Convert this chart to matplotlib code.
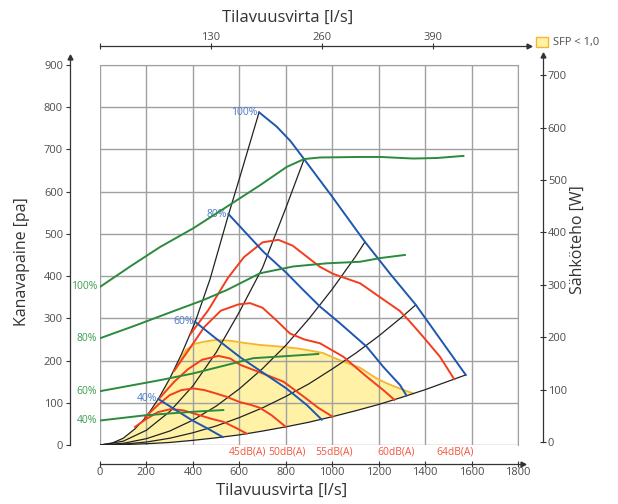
import numpy as np
import matplotlib
matplotlib.use("Agg")
import matplotlib.pyplot as plt
from matplotlib.patches import Rectangle
from matplotlib.transforms import ScaledTranslation

plt.rcParams["font.family"] = ["Open Sans", "DejaVu Sans"]

# system curves (black), flow l/s -> pressure Pa
sys1_x = [0, 50, 100, 150, 200, 251, 300, 350, 409, 474, 553, 603, 685]
sys1_y = [0, 4, 16, 38, 67, 109, 157, 214, 290, 393, 545, 636, 788]
sys2_x = [0, 100, 200, 300, 400, 500, 600, 700, 800, 879]
sys2_y = [0, 9, 35, 79, 140, 219, 315, 420, 561, 677]
sys3_x = [0, 100, 200, 300, 400, 500, 600, 700, 800, 900, 1000, 1100, 1141]
sys3_y = [0, 4, 15, 33, 59, 92, 133, 181, 236, 299, 369, 446, 481]
sys4_x = [0, 100, 200, 300, 400, 500, 600, 700, 800, 900, 1000, 1100, 1200, 1300, 1360]
sys4_y = [0, 2, 7, 16, 29, 45, 65, 88, 115, 145, 180, 217, 258, 303, 332]
sys5_x = [0, 100, 200, 300, 400, 500, 600, 700, 800, 900, 1000, 1100, 1200, 1300, 1400, 1500, 1575]
sys5_y = [0, 1, 3, 6, 11, 17, 24, 33, 43, 54, 67, 81, 96, 113, 131, 151, 166]

# fan curves (blue)
fan100_x = [685, 761, 820, 879, 1000, 1141, 1250, 1360, 1470, 1575]
fan100_y = [788, 754, 720, 677, 588, 481, 405, 332, 247, 166]
fan80_x = [553, 617, 703, 804, 870, 947, 1034, 1148, 1220, 1292, 1320]
fan80_y = [547, 509, 458, 407, 370, 328, 288, 233, 185, 142, 117]
fan60_x = [409, 500, 603, 700, 800, 890, 955]
fan60_y = [292, 252, 208, 172, 135, 95, 60]
fan40_x = [251, 320, 395, 460, 528]
fan40_y = [109, 85, 59, 40, 19]

# sound level curves (red)
db45_x = [151, 200, 250, 305, 360, 420, 480, 531, 580, 632]
db45_y = [43, 62, 78, 85, 82, 72, 62, 55, 42, 27]
db50_x = [194, 250, 300, 350, 402, 450, 500, 546, 600, 650, 689, 740, 800]
db50_y = [66, 95, 118, 130, 134, 130, 122, 114, 102, 95, 88, 70, 43]
db55_x = [258, 320, 380, 440, 510, 560, 603, 689, 790, 876, 940, 1002]
db55_y = [112, 150, 180, 202, 211, 205, 190, 172, 150, 115, 88, 67]
db60_x = [320, 388, 450, 520, 596, 646, 700, 760, 818, 880, 947, 1048, 1148, 1220, 1268]
db60_y = [176, 230, 280, 318, 333, 336, 325, 295, 264, 250, 241, 209, 162, 130, 107]
db64_x = [388, 467, 550, 620, 700, 768, 830, 900, 947, 1005, 1120, 1206, 1290, 1330, 1392, 1464, 1525]
db64_y = [262, 320, 395, 445, 480, 486, 472, 442, 422, 405, 383, 350, 318, 295, 256, 209, 156]

# electric power (green, right axis W)
pw100_x = [0, 130, 258, 402, 546, 689, 804, 879, 947, 1120, 1206, 1349, 1450, 1565]
pw100_w = [296, 335, 372, 408, 449, 490, 525, 540, 543, 544, 544, 541, 542, 546]
pw80_x = [0, 150, 330, 440, 546, 689, 832, 976, 1120, 1206, 1313]
pw80_w = [198, 222, 252, 270, 290, 322, 335, 341, 344, 351, 357]
pw60_x = [0, 258, 402, 546, 660, 804, 940]
pw60_w = [97, 118, 131, 147, 160, 164, 168]
pw40_x = [0, 194, 409, 531]
pw40_w = [41, 51, 58, 61]

# SFP < 1,0 area, upper edge
sfp_x = [337, 370, 410, 452, 500, 560, 620, 689, 780, 861, 960, 1005, 1060, 1120, 1190, 1235, 1290, 1349]
sfp_y = [191, 225, 240, 245, 249, 247, 242, 237, 233, 228, 218, 207, 195, 183, 158, 146, 134, 122]

pct_labels = ["100%", "80%", "60%", "40%"]
db_labels = ["45dB(A)", "50dB(A)", "55dB(A)", "60dB(A)", "64dB(A)"]
top_ticks = [0, 130, 260, 390]

BLUE = "#1f56b0"
BLUE_T = "#4a78c4"
RED = "#f43c1e"
RED_T = "#f5553f"
GREEN = "#2b8a3e"
GREEN_T = "#3f9e52"
GRID = "#a0a0a0"
SPINE = "#333333"
TXT = "#4d4d4d"
PT = 72 / 100  # pixels -> points

fig = plt.figure(figsize=(6.18, 5.04), dpi=100)
ax = fig.add_axes([100 / 618, 59 / 504, 418 / 618, 380 / 504])
ax.set_xlim(0, 1800)
ax.set_ylim(0, 900)
ax.set_xticks(range(0, 1801, 200))
ax.set_yticks(range(0, 901, 100))
ax.set_axisbelow(True)
ax.grid(color=GRID, lw=1)
for s in ["top", "right"]:
    ax.spines[s].set_color(GRID)
ax.spines["left"].set_position(("outward", 30 * PT))
ax.spines["left"].set_bounds(0, 915)
ax.spines["bottom"].set_position(("outward", 19 * PT))
ax.spines["bottom"].set_bounds(0, 1818)
for s in ["left", "bottom"]:
    ax.spines[s].set_color(SPINE)
    ax.spines[s].set_linewidth(0.9)
ax.tick_params(axis="x", direction="inout", length=5, width=0.8, color=SPINE,
               labelcolor=TXT, labelsize=8, pad=0)
ax.tick_params(axis="y", direction="out", length=3, width=0.8, color=SPINE,
               labelcolor=TXT, labelsize=8, pad=2)

# SFP area
left_x = [x for x in sys1_x if x < sfp_x[0]]
left_y = sys1_y[:len(left_x)]
low = [(x, y) for x, y in zip(sys5_x, sys5_y) if 0 < x < sfp_x[-1]][::-1]
poly_x = left_x + sfp_x + [p[0] for p in low]
poly_y = left_y + sfp_y + [p[1] for p in low]
ax.fill(poly_x, poly_y, color="#fff2a6", lw=0, zorder=0.3)
ax.plot(sfp_x, sfp_y, color="#f7b52c", lw=1.3, zorder=1.8)

for xs, ys in [(sys1_x, sys1_y), (sys2_x, sys2_y), (sys3_x, sys3_y),
               (sys4_x, sys4_y), (sys5_x, sys5_y)]:
    ax.plot(xs, ys, color="#222222", lw=0.9, zorder=2)

for lab, (xs, ys) in zip(db_labels, [(db45_x, db45_y), (db50_x, db50_y), (db55_x, db55_y),
                                     (db60_x, db60_y), (db64_x, db64_y)]):
    ax.plot(xs, ys, color=RED, lw=1.4, zorder=2.1)
    ax.text(xs[-1] + 5, -17, lab, color=RED_T, fontsize=7.5, ha="center",
            va="center", clip_on=False)

fans = [(fan100_x, fan100_y), (fan80_x, fan80_y), (fan60_x, fan60_y), (fan40_x, fan40_y)]
for lab, (xs, ys) in zip(pct_labels, fans):
    ax.plot(xs, ys, color=BLUE, lw=1.4, zorder=2.2)
    ax.annotate(lab, (xs[0], ys[0]), xytext=(-1, 0), textcoords="offset points",
                color=BLUE_T, fontsize=7.5, ha="right", va="center")

# right axis: power
ax2 = ax.twinx()
ax2.set_ylim(-5.7, 719.5)
for s in ["left", "top", "bottom"]:
    ax2.spines[s].set_visible(False)
ax2.spines["right"].set_position(("outward", 25 * PT))
ax2.spines["right"].set_bounds(0, 735)
ax2.spines["right"].set_color(SPINE)
ax2.spines["right"].set_linewidth(0.9)
ax2.set_yticks(range(0, 701, 100))
ax2.tick_params(axis="y", direction="inout", length=5, width=0.8, color=SPINE,
                labelcolor=TXT, labelsize=8, pad=1)
powers = [(pw100_x, pw100_w), (pw80_x, pw80_w), (pw60_x, pw60_w), (pw40_x, pw40_w)]
for lab, (xs, ws) in zip(pct_labels, powers):
    ax2.plot(xs, ws, color=GREEN, lw=1.4, zorder=3)
    ax2.annotate(lab, (xs[0], ws[0]), xytext=(-2, 0), textcoords="offset points",
                 color=GREEN_T, fontsize=7.5, ha="right", va="center")

# top axis
ax3 = ax.twiny()
ax3.set_xlim(0, 1800 / 3.677)
for s in ["left", "right", "bottom"]:
    ax3.spines[s].set_visible(False)
ax3.spines["top"].set_position(("outward", 19 * PT))
ax3.spines["top"].set_bounds(0, 500)
ax3.spines["top"].set_color(SPINE)
ax3.spines["top"].set_linewidth(0.9)
ax3.set_xticks(top_ticks)
ax3.set_xticklabels([""] + [str(t) for t in top_ticks[1:]])
ax3.tick_params(axis="x", direction="inout", length=5, width=0.8, color=SPINE,
                labelcolor=TXT, labelsize=8, pad=0)

# arrow heads on the axis lines
dpi = fig.dpi_scale_trans
ax.plot([0], [918], marker="^", ms=3.5, color=SPINE, clip_on=False,
        transform=ax.get_yaxis_transform() + ScaledTranslation(-30 / 100, 0, dpi))
ax.plot([1822], [0], marker=">", ms=3.5, color=SPINE, clip_on=False,
        transform=ax.get_xaxis_transform() + ScaledTranslation(0, -19 / 100, dpi))
ax2.plot([1], [738], marker="^", ms=3.5, color=SPINE, clip_on=False,
         transform=ax2.get_yaxis_transform() + ScaledTranslation(25 / 100, 0, dpi))
ax3.plot([502], [1], marker=">", ms=3.5, color=SPINE, clip_on=False,
         transform=ax3.get_xaxis_transform() + ScaledTranslation(0, 19 / 100, dpi))

# titles
fig.text(288 / 618, 1 - 18 / 504, "Tilavuusvirta [l/s]", fontsize=12, color="#333333",
         ha="center", va="center")
fig.text(282 / 618, 1 - 491 / 504, "Tilavuusvirta [l/s]", fontsize=12, color="#333333",
         ha="center", va="center")
fig.text(22 / 618, 1 - 262 / 504, "Kanavapaine [pa]", fontsize=11.5, color="#333333",
         ha="center", va="center", rotation=90)
fig.text(578 / 618, 1 - 240 / 504, "Sähköteho [W]", fontsize=11.5, color="#333333",
         ha="center", va="center", rotation=90)

# legend
fig.add_artist(Rectangle((536 / 618, 1 - 47 / 504), 12 / 618, 10 / 504,
                         transform=fig.transFigure, facecolor="#fff2a6",
                         edgecolor="#f7b52c", lw=1))
fig.text(553 / 618, 1 - 42 / 504, "SFP < 1,0", fontsize=8, color=TXT,
         ha="left", va="center")

fig.savefig("out.png", dpi=100)
